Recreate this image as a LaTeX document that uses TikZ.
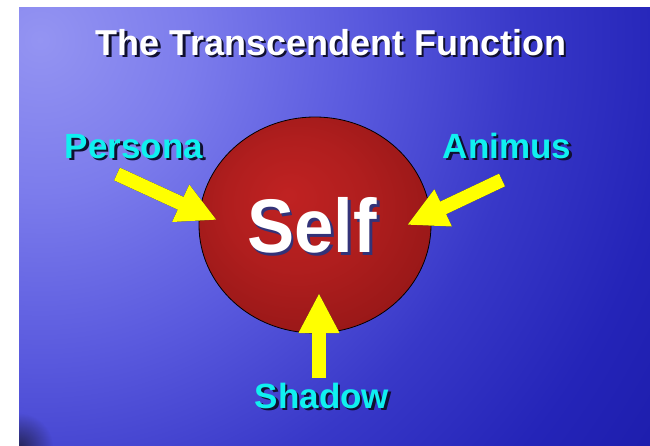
\documentclass[tikz,border=0pt]{standalone}
\usepackage{fontspec}
\setmainfont{Liberation Sans}
\usetikzlibrary{arrows.meta,shapes.geometric,fadings}
\definecolor{bgA}{HTML}{9494F2}
\definecolor{bgB}{HTML}{7C7CEC}
\definecolor{bgC}{HTML}{5A5ADE}
\definecolor{bgD}{HTML}{3838C8}
\definecolor{bgE}{HTML}{2424B8}
\definecolor{bgF}{HTML}{1C1CAA}
\definecolor{redA}{HTML}{C02222}
\definecolor{redB}{HTML}{B01E1E}
\definecolor{redC}{HTML}{961717}
\definecolor{labcyan}{HTML}{10F0F0}
\definecolor{arrowyellow}{HTML}{FFFF00}
\definecolor{shadowdark}{HTML}{101030}
\definecolor{cornerdark}{HTML}{26265A}
\pgfdeclareradialshading{slidebg}{\pgfpoint{0bp}{0bp}}{%
  color(0bp)=(bgA); color(5bp)=(bgB); color(10.4bp)=(bgC);
  color(15.85bp)=(bgD); color(20.85bp)=(bgE); color(25bp)=(bgF); color(50bp)=(bgF)}
\pgfdeclareradialshading{redball}{\pgfpoint{-6bp}{7bp}}{%
  color(0bp)=(redA); color(15bp)=(redB); color(31bp)=(redC); color(50bp)=(redC)}
\tikzfading[name=softdot, inner color=transparent!0, outer color=transparent!100]
\tikzset{
  titletxt/.style={font=\bfseries\fontsize{36}{36}\selectfont, inner sep=0pt, anchor=base},
  labeltxt/.style={font=\bfseries\fontsize{35}{35}\selectfont, inner sep=0pt, anchor=base, text=labcyan},
  selftxt/.style={font=\bfseries\fontsize{76}{76}\selectfont, inner sep=0pt, anchor=base, xscale=0.93},
  txtshadow/.style={text=shadowdark, xshift=2.5pt, yshift=-2.5pt},
  yarrow/.style={draw=arrowyellow, line width=14pt, -{Triangle[width=38pt,length=40pt]}},
  arrowshadow/.style={draw=shadowdark, line width=14pt, -{Triangle[width=38pt,length=40pt]}, xshift=2.5pt, yshift=-2.5pt},
  selfball/.style={ellipse, minimum width=232pt, minimum height=216pt, inner sep=0pt,
    shading=redball, draw=black, line width=0.8pt}
}
\begin{document}
\begin{tikzpicture}[x=1pt,y=-1pt]
\useasboundingbox (0,0) rectangle (650,445);
\fill[white] (0,0) rectangle (650,445);
% slide background
\begin{scope}
  \clip (19,7) rectangle (652,447);
  \fill[bgF] (19,7) rectangle (652,447);
  \shade[shading=slidebg] (40,40) circle[radius=760];
  \fill[cornerdark, path fading=softdot] (19,447) circle[radius=34];
\end{scope}
% title
\node[titletxt, txtshadow] (title-sh) at (331,55) {The Transcendent Function};
\node[titletxt, text=white] (title) at (331,55) {The Transcendent Function};
% self circle
\node[selfball] (self) at (315,225) {};
\node[selftxt, text=black!55!blue!60!gray, xshift=3pt, yshift=-3pt] (self-sh) at (312,252) {Self};
\node[selftxt, text=white] (selftext) at (312,252) {Self};
% labels
\node[labeltxt, txtshadow] (persona-sh) at (134,158) {Persona};
\node[labeltxt] (persona) at (134,158) {Persona};
\node[labeltxt, txtshadow] (animus-sh) at (507,158) {Animus};
\node[labeltxt] (animus) at (507,158) {Animus};
\node[labeltxt, txtshadow] (shadow-sh) at (322,408) {Shadow};
\node[labeltxt] (shadow) at (322,408) {Shadow};
% arrow end points
\coordinate (ptail) at (117,174);
\coordinate (ptip) at (217,220);
\coordinate (atail) at (502,180);
\coordinate (atip) at (407,225);
\coordinate (stail) at (319,378);
\coordinate (stip) at (319,293);
% arrows
\draw[arrowshadow] (ptail) -- (ptip);
\draw[arrowshadow] (atail) -- (atip);
\draw[arrowshadow] (stail) -- (stip);
\draw[yarrow] (ptail) -- (ptip);
\draw[yarrow] (atail) -- (atip);
\draw[yarrow] (stail) -- (stip);
\end{tikzpicture}
\end{document}
